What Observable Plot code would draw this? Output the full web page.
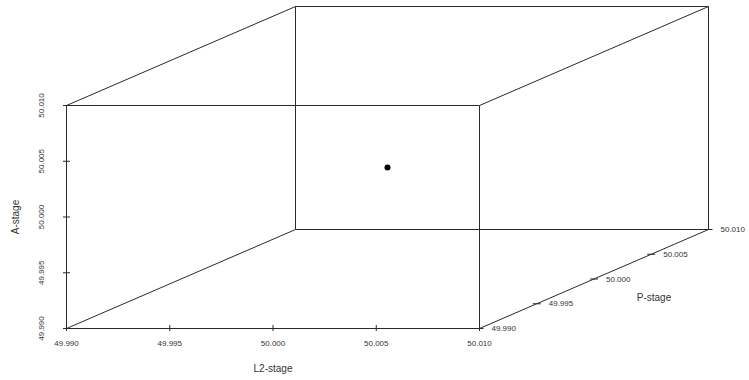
<!DOCTYPE html>
<html><head><meta charset="utf-8">
<script src="https://cdn.jsdelivr.net/npm/d3@7"></script>
<script src="https://cdn.jsdelivr.net/npm/@observablehq/plot@0.6"></script>
<style>body{margin:0;background:#fff}#chart svg{display:block}</style>
</head><body><div id="chart"></div>
<script>
// ---- data ----
const l2Ticks = [49.990, 49.995, 50.000, 50.005, 50.010];
const pTicks  = [49.990, 49.995, 50.000, 50.005, 50.010];
const aTicks  = [49.990, 49.995, 50.000, 50.005, 50.010];
const l2Values = [50.000];
const pValues  = [50.000];
const aValues  = [50.000];
const xTitle = "L2-stage";
const yTitle = "A-stage";
const zTitle = "P-stage";

// ---- layout ----
const W = 749, H = 380;
const mL = 66, mR = 41, mT = 6, mB = 52;
const lo = 49.99, hi = 50.01, span = hi - lo;
const depthX = span * 229 / 413;   // screen shift of the depth axis, in L2 units
const depthY = span * 99 / 223;    // in A units
const ux = (span + depthX) / (W - mL - mR); // data per px (x)
const uy = (span + depthY) / (H - mT - mB); // data per px (y)
function proj(l2, p, a) {
  const t = (p - lo) / span;
  return {x: l2 + t * depthX, y: a + t * depthY};
}

// cube edges
const corners = [];
for (const a of [lo, hi]) for (const p of [lo, hi]) for (const l of [lo, hi]) corners.push([l, p, a]);
const edges = [];
for (let i = 0; i < 8; i++) for (let j = i + 1; j < 8; j++) {
  const d = corners[i].reduce((s, v, k) => s + (v !== corners[j][k] ? 1 : 0), 0);
  if (d === 1) {
    const A = proj(...corners[i]), B = proj(...corners[j]);
    edges.push({x1: A.x, y1: A.y, x2: B.x, y2: B.y});
  }
}
const pts = l2Values.map((l, i) => ({...proj(l, pValues[i], aValues[i])}));

const ink = "#2a2a2a";
const txt = "#333";
const font = "'Liberation Sans', Arial, sans-serif";

const chart = Plot.plot({
  width: W, height: H,
  marginLeft: mL, marginRight: mR, marginTop: mT, marginBottom: mB,
  x: {domain: [lo, hi + depthX], axis: null},
  y: {domain: [lo, hi + depthY], axis: null},
  style: {fontFamily: font, background: "#fff"},
  marks: [
    Plot.link(edges, {x1: "x1", y1: "y1", x2: "x2", y2: "y2", stroke: ink, strokeWidth: 1}),
    // L2 axis ticks + labels
    Plot.ruleX(l2Ticks, {x: d => d, y1: lo - 3 * uy, y2: lo + 3 * uy, stroke: ink}),
    Plot.text(l2Ticks, {x: d => d, y: lo - 15 * uy, text: d => d.toFixed(3), fontSize: 8, fill: txt}),
    Plot.text([xTitle], {x: (lo + hi) / 2, y: lo - 40 * uy, text: d => d, fontSize: 10, fill: txt}),
    // A axis ticks + labels
    Plot.ruleY(aTicks, {y: d => d, x1: lo - 3 * ux, x2: lo + 4 * ux, stroke: ink}),
    Plot.text(aTicks, {x: lo - 25.5 * ux, y: d => d, rotate: -90, text: d => d.toFixed(3), fontSize: 8, fill: txt}),
    Plot.text([yTitle], {x: lo - 51 * ux, y: (lo + hi) / 2, rotate: -90, text: d => d, fontSize: 10, fill: txt}),
    // P axis ticks + labels (along the bottom-right depth edge)
    Plot.link(pTicks, {
      x1: d => proj(hi, d, lo).x - 4 * ux, x2: d => proj(hi, d, lo).x + 4 * ux,
      y1: d => proj(hi, d, lo).y, y2: d => proj(hi, d, lo).y, stroke: ink
    }),
    Plot.text(pTicks, {x: d => proj(hi, d, lo).x + 12 * ux, y: d => proj(hi, d, lo).y,
      text: d => d.toFixed(3), textAnchor: "start", fontSize: 8, fill: txt}),
    Plot.text([zTitle], {x: proj(hi, (lo + hi) / 2, lo).x + 60 * ux, y: proj(hi, (lo + hi) / 2, lo).y - 19 * uy,
      text: d => d, fontSize: 10, fill: txt}),
    // data points
    Plot.dot(pts, {x: "x", y: "y", r: 3, fill: "black", stroke: "none"})
  ]
});
document.getElementById("chart").append(chart);
</script>
</body></html>
